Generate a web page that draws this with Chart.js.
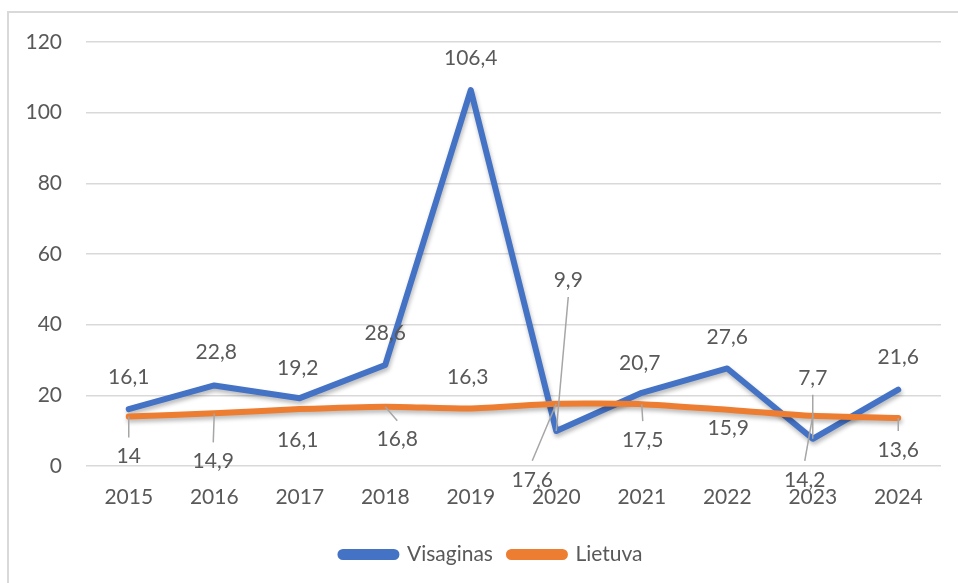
<!DOCTYPE html>
<html>
<head>
<meta charset="utf-8">
<script src="https://cdn.jsdelivr.net/npm/chart.js@4/dist/chart.umd.min.js"></script>
<style>
  html, body { margin: 0; padding: 0; background: #fff; }
  #wrap { width: 958px; height: 583px; position: relative; }
</style>
</head>
<body>
<div id="wrap"><canvas id="myChart"></canvas></div>
<script>
const years = ['2015', '2016', '2017', '2018', '2019', '2020', '2021', '2022', '2023', '2024'];
const visaginas = [16.1, 22.8, 19.2, 28.6, 106.4, 9.9, 20.7, 27.6, 7.7, 21.6];
const lietuva = [14, 14.9, 16.1, 16.8, 16.3, 17.6, 17.5, 15.9, 14.2, 13.6];
const seriesNames = ['Visaginas', 'Lietuva'];

const textColor = '#595959';
const fontFamily = 'Lato, "Open Sans", sans-serif';

// where each value label sits relative to its point, and whether it gets a leader line
const labelPlacement = [
    [[0, -32], [2, -33], [-2, -30], [0, -32], [0, -32], [12, -151, true], [-2, -30], [0, -31], [0, -61, true], [0, -32]],
    [[0, 40, true], [-1, 48, true], [-2, 31], [12, 33, true], [-3, -31], [-24, 76, true], [1, 36, true], [1, 18], [-8, 64, true], [0, 32, true]]
];

function fmt(v) {
    return String(v).replace('.', ',');
}

// light frame like the Excel chart area
const framePlugin = {
    id: 'frame',
    beforeDraw(chart) {
        const ctx = chart.ctx;
        ctx.save();
        ctx.strokeStyle = '#d9d9d9';
        ctx.lineWidth = 2;
        ctx.strokeRect(8, 12, 1000, 700);
        ctx.restore();
        // legend is centred on the whole frame, not on the plot
        if (chart.legend && !chart.legend._shifted) {
            chart.legend.left += 21;
            chart.legend.right += 21;
            chart.legend._shifted = true;
        }
    }
};

// soft shadow under the lines
const shadowPlugin = {
    id: 'lineShadow',
    beforeDatasetDraw(chart) {
        const ctx = chart.ctx;
        ctx.shadowColor = 'rgba(0, 0, 0, 0.28)';
        ctx.shadowBlur = 4;
        ctx.shadowOffsetX = 1;
        ctx.shadowOffsetY = 3;
    },
    afterDatasetDraw(chart) {
        const ctx = chart.ctx;
        ctx.shadowColor = 'transparent';
        ctx.shadowBlur = 0;
        ctx.shadowOffsetX = 0;
        ctx.shadowOffsetY = 0;
    }
};

const valueLabelPlugin = {
    id: 'valueLabels',
    afterDatasetsDraw(chart) {
        const ctx = chart.ctx;
        ctx.save();
        ctx.font = '21px ' + fontFamily;
        ctx.textAlign = 'center';
        ctx.textBaseline = 'middle';
        chart.data.datasets.forEach((ds, di) => {
            const meta = chart.getDatasetMeta(di);
            meta.data.forEach((pt, i) => {
                const place = labelPlacement[di][i];
                const lx = pt.x + place[0];
                const ly = pt.y + place[1];
                if (place[2]) {
                    const sy = place[1] > 0 ? ly - 19 : ly + 17;
                    ctx.strokeStyle = '#a6a6a6';
                    ctx.lineWidth = 1.5;
                    ctx.beginPath();
                    ctx.moveTo(lx, sy);
                    ctx.lineTo(pt.x, pt.y);
                    ctx.stroke();
                }
                ctx.fillStyle = textColor;
                ctx.fillText(fmt(ds.data[i]), lx, ly);
            });
        });
        ctx.restore();
    }
};

const ctx = document.getElementById('myChart').getContext('2d');
const myChart = new Chart(ctx, {
    type: 'line',
    data: {
        labels: years,
        datasets: [
            {
                label: seriesNames[0],
                data: visaginas,
                borderColor: '#4472c4',
                backgroundColor: '#4472c4',
                borderWidth: 6,
                pointRadius: 0,
                tension: 0,
                borderJoinStyle: 'round',
                borderCapStyle: 'round',
                order: 1
            },
            {
                label: seriesNames[1],
                data: lietuva,
                borderColor: '#ed7d31',
                backgroundColor: '#ed7d31',
                borderWidth: 6,
                pointRadius: 0,
                tension: 0.2,
                borderJoinStyle: 'round',
                borderCapStyle: 'round',
                order: 0
            }
        ]
    },
    options: {
        responsive: true,
        maintainAspectRatio: false,
        animation: false,
        layout: {
            padding: { top: 42, right: 17, left: 0, bottom: 8 }
        },
        scales: {
            x: {
                offset: true,
                grid: { display: false },
                border: { display: false },
                ticks: {
                    color: textColor,
                    font: { size: 21, family: fontFamily },
                    padding: 11,
                    maxRotation: 0
                },
                afterFit(scale) { scale.height = 62; }
            },
            y: {
                min: 0,
                max: 120,
                ticks: {
                    stepSize: 20,
                    color: textColor,
                    font: { size: 21, family: fontFamily },
                    padding: 24
                },
                grid: { color: '#d9d9d9', lineWidth: 1.5, drawTicks: false },
                border: { display: false },
                afterFit(scale) { scale.width = 86; }
            }
        },
        plugins: {
            legend: {
                position: 'bottom',
                labels: {
                    color: textColor,
                    font: { size: 21, family: fontFamily },
                    boxWidth: 56,
                    boxHeight: 5,
                    useBorderRadius: true,
                    borderRadius: 2.5,
                    padding: 16,
                    sort: (a, b) => a.datasetIndex - b.datasetIndex
                }
            },
            tooltip: { enabled: false }
        }
    },
    plugins: [framePlugin, shadowPlugin, valueLabelPlugin]
});
</script>
</body>
</html>
